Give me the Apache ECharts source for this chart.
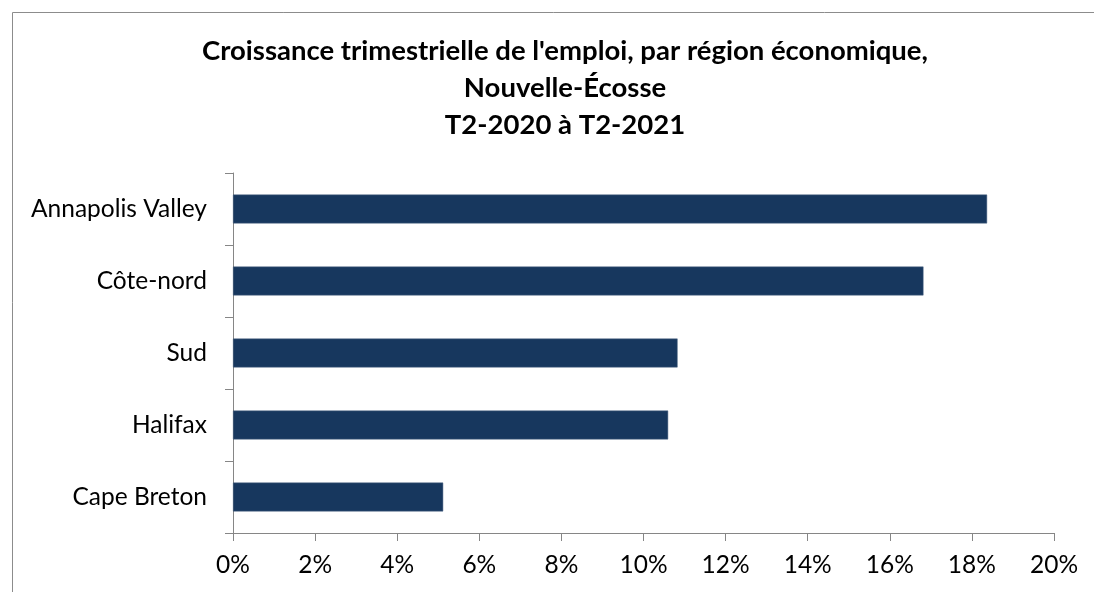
<!DOCTYPE html>
<html>
<head>
<meta charset="utf-8">
<script src="https://cdn.jsdelivr.net/npm/echarts@6/dist/echarts.min.js"></script>
<style>
html,body{margin:0;padding:0;background:#fff;}
#chart{width:1094px;height:592px;}
</style>
</head>
<body>
<div id="chart"></div>
<script>
var regions = ['Annapolis Valley', 'Côte-nord', 'Sud', 'Halifax', 'Cape Breton'];
var growth = [18.37, 16.82, 10.83, 10.60, 5.12];
var titleLines = ["Croissance trimestrielle de l'emploi, par région économique,", 'Nouvelle-Écosse', 'T2-2020 à T2-2021'];

var myChart = echarts.init(document.getElementById('chart'));
var option = {
	animation: false,
	title: {
		text: titleLines.join('\n'),
		left: 560,
		textAlign: 'center',
		top: 28,
		textStyle: {
			fontFamily: 'Lato',
			fontWeight: 'bold',
			fontSize: 27.5,
			lineHeight: 37,
			color: '#000'
		}
	},
	graphic: [{ //外边框
		type: 'rect',
		shape: {x: 12.5, y: 12.5, width: 1200, height: 700},
		style: {fill: 'none', stroke: '#8c8c8c', lineWidth: 1}
	}],
	grid: {
		left: 233,
		right: 40,
		top: 173,
		bottom: 59
	},
	xAxis: {
		type: 'value',
		min: 0,
		max: 20,
		interval: 2,
		splitLine: {show: false},
		axisLine: {show: true, lineStyle: {color: '#868686'}},
		axisTick: {show: true, length: 8, lineStyle: {color: '#868686'}},
		axisLabel: {
			formatter: '{value}%',
			fontFamily: 'Lato',
			fontSize: 24.5,
			color: '#000',
			margin: 20
		}
	},
	yAxis: {
		type: 'category',
		inverse: true,
		data: regions,
		axisLine: {show: true, lineStyle: {color: '#868686'}},
		axisTick: {show: true, length: 8, lineStyle: {color: '#868686'}},
		axisLabel: {
			fontFamily: 'Lato',
			fontSize: 24.5,
			color: '#000',
			margin: 26
		}
	},
	series: [{
		type: 'bar',
		data: growth,
		barWidth: '40%',
		itemStyle: {color: '#17375e', borderColor: '#4a6380', borderWidth: 0.5}
	}]
};
myChart.setOption(option);
</script>
</body>
</html>
